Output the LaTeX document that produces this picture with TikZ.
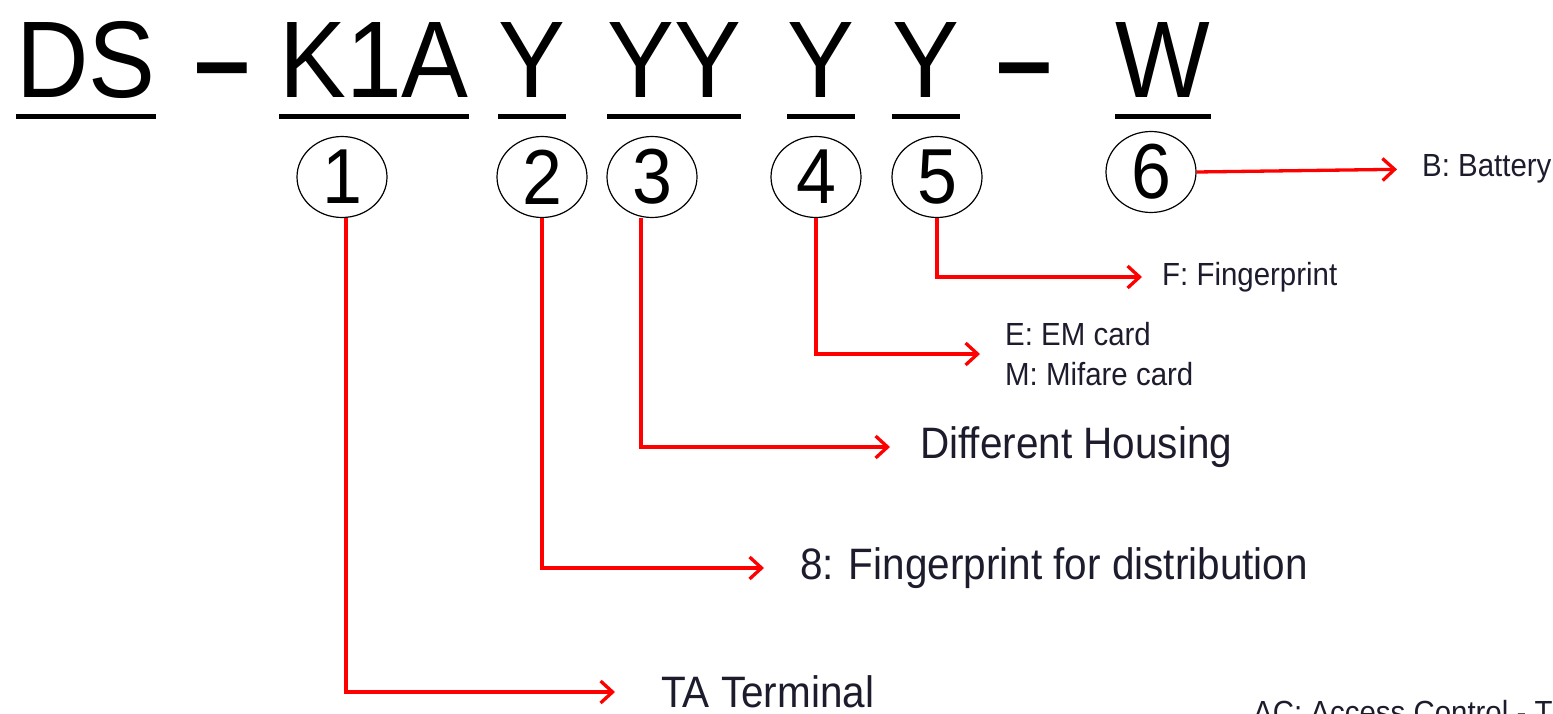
\documentclass[tikz,border=0pt]{standalone}
\usepackage{fontspec}
\setmainfont{Liberation Sans}[FakeStretch=0.92]
\usetikzlibrary{arrows.meta,positioning,shapes.geometric}
\definecolor{leadred}{RGB}{255,0,0}
\definecolor{labelink}{RGB}{28,28,45}

\begin{document}
\begin{tikzpicture}[x=1pt,y=-1pt,
    code/.style={inner sep=0pt,font=\fontsize{109}{109}\selectfont},
    sep/.style={inner sep=0pt,font=\fontsize{109}{109}\selectfont\bfseries},
    uline/.style={line width=5pt},
    num/.style={ellipse,draw,line width=1.2pt,minimum width=90pt,minimum height=81pt,
                inner sep=0pt,font=\fontsize{78}{78}\selectfont},
    lead/.style={draw=leadred,line width=3.3pt,-{Straight Barb[length=12pt,width=22pt]}},
    big/.style={inner sep=0pt,anchor=west,text=labelink,font=\fontsize{44}{44}\selectfont},
    small/.style={inner sep=0pt,anchor=west,align=left,text=labelink,font=\fontsize{32}{40}\selectfont}]
  \useasboundingbox (0,0) rectangle (1553,714);
  % part number
  \node[code,anchor=base] (ds) at (86,98) {DS};
  \node[sep,anchor=base] (d1) at (222,98) {–};
  \node[code,anchor=base] (k1a) at (374,98) {K1A};
  \node[code,anchor=base] (y2) at (532,98) {Y};
  \node[code,anchor=base] (yy3) at (674,98) {YY};
  \node[code,anchor=base] (y4) at (821,98) {Y};
  \node[code,anchor=base] (y5) at (926,98) {Y};
  \node[sep,anchor=base] (d2) at (1024,98) {–};
  \node[code,anchor=base] (w6) at (1163,98) {W};
  \foreach \p in {ds,k1a,y2,yy3,y4,y5,w6}
    \draw[uline] ([yshift=-19pt]\p.base west) -- ([yshift=-19pt]\p.base east);
  % field numbers
  \node[num] (c1) at (342,177) {1};
  \node[num] (c2) at (542,177) {2};
  \node[num] (c3) at (652,177) {3};
  \node[num] (c4) at (816,177) {4};
  \node[num] (c5) at (937,177) {5};
  \node[num] (c6) at (1151,172) {6};
  % meanings
  \node[big] (t1) at (661,692) {TA Terminal};
  \node[big] (t2) at (800,568) {8: Fingerprint for distribution};
  \node[big] (t3) at (920,447) {Different Housing};
  \node[small] (t4) at (1005,354) {E: EM card\\M: Mifare card};
  \node[small] (t5) at (1162,277) {F: Fingerprint};
  \node[small] (t6) at (1422,169) {B: Battery};
  \node[small,anchor=base west] (ac) at (1253,723) {AC: Access Control - T};
  \draw[lead,shorten >=46pt] ([xshift=4pt]c1.south) |- (t1.west);
  \draw[lead,shorten >=36pt] (c2.south) |- (t2.west);
  \draw[lead,shorten >=30pt] ([xshift=-11pt]c3.south) |- (t3.west);
  \draw[lead,shorten >=25pt] (c4.south) |- (t4.west);
  \draw[lead,shorten >=20pt] (c5.south) |- (t5.west);
  \draw[lead,shorten >=25pt] (c6.east) -- (t6.west);
\end{tikzpicture}
\end{document}
